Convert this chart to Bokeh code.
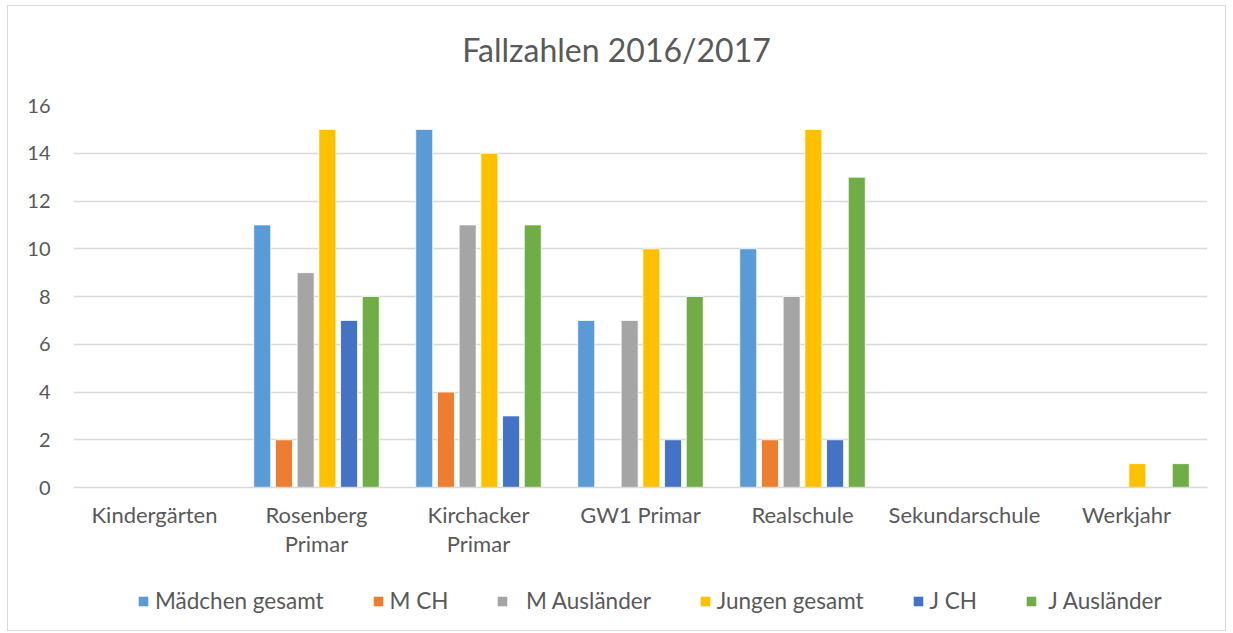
from bokeh.plotting import figure
from bokeh.layouts import column
from bokeh.models import Range1d, FactorRange, Legend, LegendItem, ColumnDataSource, Div
from bokeh.transform import dodge
from bokeh.embed import file_html
from bokeh.resources import INLINE

title_text = "Fallzahlen 2016/2017"
categories = ["Kindergärten", "Rosenberg\nPrimar", "Kirchacker\nPrimar", "GW1 Primar",
              "Realschule", "Sekundarschule", "Werkjahr"]

series_names = ["Mädchen gesamt", "M CH", "  M Ausländer", "Jungen gesamt", "J CH", " J Ausländer"]
maedchen_gesamt = [0, 11, 15, 7, 10, 0, 0]
m_ch = [0, 2, 4, 0, 2, 0, 0]
m_auslaender = [0, 9, 11, 7, 8, 0, 0]
jungen_gesamt = [0, 15, 14, 10, 15, 0, 1]
j_ch = [0, 7, 3, 2, 2, 0, 0]
j_auslaender = [0, 8, 11, 8, 13, 0, 1]
series_values = [maedchen_gesamt, m_ch, m_auslaender, jungen_gesamt, j_ch, j_auslaender]
colors = ["#5B9BD5", "#ED7D31", "#A5A5A5", "#FFC000", "#4472C4", "#70AD47"]

FONT = "Lato"
TXT = "#595959"
GRID = "#D9D9D9"

title_div = Div(text=title_text, width=1217, height=88, margin=0,
                styles={"font-family": FONT, "font-size": "32px", "color": TXT,
                        "text-align": "center", "line-height": "88px", "width": "1217px",
                        "background": "white"})

x_range = FactorRange(*categories)
p = figure(width=1217, height=472, x_range=x_range, y_range=Range1d(0, 16),
           output_backend="svg", toolbar_location=None,
           min_border_left=65, min_border_right=18, min_border_top=11, min_border_bottom=79)
p.title = None
p.outline_line_color = None
p.background_fill_color = "white"
p.border_fill_color = "white"

src = ColumnDataSource(dict(cat=categories, **{f"s{i}": v for i, v in enumerate(series_values)}))

step = 0.134
width = 0.105
for i, col in enumerate(colors):
    off = (i - 2.5) * step
    p.vbar(x=dodge("cat", off, range=x_range), top=f"s{i}", width=width, source=src,
           fill_color=col, line_color="white", line_width=0.8)

p.xgrid.grid_line_color = None
p.ygrid.grid_line_color = GRID
p.ygrid.grid_line_width = 1.5

p.yaxis.axis_line_color = None
p.yaxis.major_tick_line_color = None
p.yaxis.minor_tick_line_color = None
p.yaxis.major_label_text_font = FONT
p.yaxis.major_label_text_font_size = "20px"
p.yaxis.major_label_text_color = TXT
p.yaxis.major_label_standoff = 17
p.yaxis.ticker = list(range(0, 17, 2))

p.xaxis.axis_line_color = GRID
p.xaxis.axis_line_width = 1.5
p.xaxis.major_tick_line_color = None
p.xaxis.minor_tick_line_color = None
p.xaxis.major_label_text_font = FONT
p.xaxis.major_label_text_font_size = "22px"
p.xaxis.major_label_text_line_height = 1.1
p.xaxis.major_label_text_color = TXT
p.xaxis.major_label_standoff = 7

# legend strip below the chart (its renderers are hidden, only the legend shows)
q = figure(width=1217, height=64, x_range=x_range, y_range=Range1d(0, 16),
           x_axis_type=None, y_axis_type=None, output_backend="svg", toolbar_location=None,
           min_border=0)
q.title = None
q.outline_line_color = None
q.xgrid.grid_line_color = None
q.ygrid.grid_line_color = None
q.background_fill_color = "white"
q.border_fill_color = "white"

items = []
for i, (name, col) in enumerate(zip(series_names, colors)):
    off = (i - 2.5) * step
    r = q.vbar(x=dodge("cat", off, range=x_range), top=f"s{i}", width=width, source=src,
               fill_color=col, line_color=None, visible=False)
    items.append(LegendItem(label=name, renderers=[r]))

legend = Legend(items=items, orientation="horizontal", location=(64, 16),
                label_text_font=FONT, label_text_font_size="22.5px", label_text_color=TXT,
                glyph_width=12, glyph_height=12, label_standoff=6, spacing=48,
                border_line_color=None, background_fill_alpha=0, margin=0, padding=0,
                inactive_fill_alpha=0)
q.add_layout(legend, "center")

layout = column(title_div, p, q, spacing=0,
                styles={"margin": "6px 0 0 8px", "outline": "1px solid #D9D9D9",
                        "background": "white"})

open("out.html", "w").write(file_html(layout, INLINE))
